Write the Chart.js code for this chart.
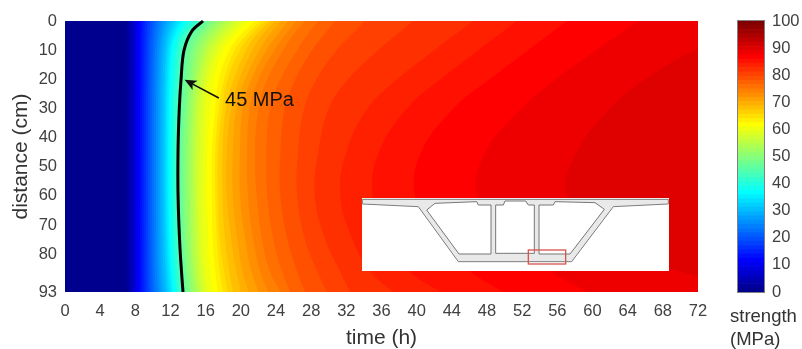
<!DOCTYPE html>
<html>
<head>
<meta charset="utf-8">
<style>
html,body{margin:0;padding:0;background:#fff;width:802px;height:349px;overflow:hidden}
canvas{position:absolute;display:block}
#inset{position:absolute;left:355px;top:190px;width:320px;height:90px}
</style>
<script src="https://cdn.jsdelivr.net/npm/chart.js@4"></script>
</head>
<body>
<canvas id="main" width="802" height="349" style="left:0;top:0;width:802px;height:349px"></canvas>
<canvas id="bar" width="82" height="349" style="left:720px;top:0;width:82px;height:349px"></canvas>
<svg id="inset" viewBox="0 0 960 270" aria-hidden="true">
  <defs><filter id="soft"><feGaussianBlur stdDeviation="1.1"/></filter></defs>
  <rect x="21" y="24" width="921" height="219" fill="#fff"/>
  <g filter="url(#soft)">
    <path d="M22 28L940 28L940 42L775 50L650 215L310 215L190 50L22 42Z" fill="#e9e9e9" stroke="#7d7d7d" stroke-width="3"/>
    <path d="M240 40L365 35L370 45L408 45L408 192L312 192L215 60Z" fill="#fff" stroke="#777" stroke-width="3"/>
    <path d="M422 45L445 45L450 33L512 33L520 45L538 45L538 190L422 190Z" fill="#fff" stroke="#777" stroke-width="3"/>
    <path d="M552 45L595 45L600 35L720 38L748 58L645 192L552 192Z" fill="#fff" stroke="#777" stroke-width="3"/>
    <rect x="520" y="180" width="112" height="42" fill="none" stroke="#d9544f" stroke-width="4"/>
  </g>
</svg>
<script>
// ---- data ----
const timeTicks = [0,4,8,12,16,20,24,28,32,36,40,44,48,52,56,60,64,68,72];
const depthTicks = [0,10,20,30,40,50,60,70,80,93];
const strengthTicks = [0,10,20,30,40,50,60,70,80,90,100];
const bandWidthMPa = 100/64;
const depthNodes = [0,5,10,20,30,45,60,75,86,93];
const baseContour = [0,0,0,0,0,0,0,0,0,0];
// time (h) at which strength crosses each band boundary, one row per boundary, one column per depth node
const contourTimes = [
[7.05,7.05,7.05,7.05,7.05,7.05,7.05,7.05,7.05,7.05],
[7.28,7.28,7.28,7.28,7.28,7.28,7.28,7.28,7.28,7.28],
[7.51,7.51,7.51,7.51,7.51,7.51,7.51,7.51,7.51,7.51],
[7.74,7.74,7.74,7.74,7.74,7.74,7.74,7.74,7.74,7.74],
[7.97,7.96,7.96,7.96,7.96,7.96,7.96,7.96,7.96,7.97],
[8.15,8.14,8.13,8.13,8.13,8.13,8.13,8.13,8.13,8.15],
[8.33,8.31,8.3,8.3,8.3,8.3,8.3,8.3,8.31,8.33],
[8.58,8.55,8.54,8.53,8.53,8.53,8.53,8.53,8.54,8.55],
[8.85,8.8,8.78,8.77,8.76,8.76,8.76,8.76,8.77,8.8],
[9.1,9.05,9.02,9,8.99,8.99,8.99,9,9.01,9.05],
[9.4,9.3,9.27,9.24,9.22,9.22,9.22,9.23,9.25,9.3],
[9.7,9.55,9.5,9.46,9.44,9.44,9.44,9.45,9.48,9.54],
[10,9.85,9.75,9.7,9.68,9.67,9.67,9.68,9.72,9.8],
[10.3,10.1,10,9.94,9.9,9.9,9.9,9.92,9.96,10.05],
[10.6,10.4,10.25,10.17,10.13,10.12,10.12,10.15,10.2,10.32],
[10.95,10.65,10.5,10.4,10.36,10.35,10.35,10.38,10.45,10.6],
[11.25,10.95,10.75,10.63,10.6,10.58,10.58,10.62,10.7,10.85],
[11.6,11.2,11,10.88,10.82,10.81,10.81,10.86,10.95,11.1],
[11.95,11.5,11.25,11.1,11.05,11.04,11.04,11.1,11.2,11.4],
[12.3,11.75,11.5,11.33,11.28,11.26,11.26,11.32,11.45,11.65],
[12.6,12,11.7,11.5,11.45,11.43,11.43,11.5,11.65,11.85],
[12.95,12.25,11.9,11.7,11.62,11.6,11.6,11.68,11.85,12.05],
[13.3,12.5,12.1,11.9,11.8,11.77,11.77,11.85,12.05,12.25],
[13.65,12.74,12.3,12.06,11.95,11.95,11.95,12.06,12.25,12.5],
[14.1,13,12.6,12.35,12.25,12.2,12.2,12.3,12.45,12.7],
[14.6,13.3,12.85,12.6,12.45,12.4,12.4,12.5,12.65,12.85],
[15,13.6,13.1,12.85,12.7,12.63,12.63,12.7,12.9,13.1],
[15.4,13.9,13.3,13,12.8,12.75,12.75,12.85,13.05,13.25],
[15.8,14.2,13.55,13.2,13,12.9,12.9,13.05,13.25,13.45],
[16.2,14.7,14,13.6,13.4,13.2,13.2,13.3,13.5,13.75],
[16.6,15.2,14.4,14,13.7,13.5,13.5,13.6,13.8,14.05],
[17,15.6,14.8,14.3,14,13.8,13.75,13.85,14.05,14.3],
[17.5,16,15.2,14.6,14.2,14.05,14.05,14.15,14.35,14.6],
[18,16.5,15.6,14.9,14.5,14.35,14.33,14.4,14.6,14.9],
[18.5,17,16,15.2,14.8,14.6,14.6,14.7,14.9,15.2],
[19,17.5,16.4,15.5,15.1,14.9,14.9,15,15.2,15.5],
[19.6,18,16.9,15.9,15.5,15.3,15.2,15.3,15.5,15.8],
[20.2,18.6,17.4,16.3,15.9,15.7,15.6,15.7,15.9,16.2],
[20.9,19.2,18,16.9,16.5,16.2,16.15,16.3,16.5,16.8],
[21.6,19.9,18.7,17.5,17.1,16.7,16.7,16.8,17.1,17.4],
[22.2,20.6,19.3,18.1,17.5,17.1,17.1,17.3,17.6,18],
[22.8,21.1,19.9,18.5,17.9,17.4,17.4,17.6,18.1,18.5],
[23.3,21.7,20.6,19.2,18.3,17.9,17.9,18.2,18.7,19.1],
[23.9,22.4,21.3,19.8,18.9,18.4,18.4,18.9,19.5,20],
[24.6,23.2,22.1,20.5,19.5,19.1,19.1,19.6,20.2,20.9],
[25.4,24.1,22.9,21.2,20.2,19.9,19.9,20.5,21.2,22],
[26.3,25,23.8,22,21,20.7,20.8,21.4,22.2,23.1],
[27.3,25.9,24.8,23,22,21.6,21.8,22.4,23.3,24.5],
[28.8,27.5,26.4,24.5,23.3,22.9,23,23.7,24.7,25.6],
[30.7,29.4,28.1,26.2,25,24.5,24.5,25.3,26.4,27.3],
[34.1,32.5,30.9,28.6,27.2,26.5,26.4,27.3,28.7,29.8],
[39.6,37.6,35.6,32.2,30,28.8,28.4,29.6,31.3,32.4],
[46.4,44.2,42,37.8,34.4,32,31.3,32.7,34.7,37.3],
[51.4,49.2,47,42.7,38.9,35.7,35,36.7,39.2,42.7],
[57.1,54.9,52.7,48.3,44.2,40.5,39.8,42.2,46.1,49.8],
[65.2,62.8,60.4,55.8,51.9,47.8,46.9,50.4,55.2,59.4],
[82.5,77.4,71.7,66,62,58.2,57.1,63.1,70,82]
];
const line45Depth = [0,3.4,10,20,30,44,60,78,93];
const line45Time = [15.7,14.45,13.54,13.2,13,12.86,12.86,13.08,13.42];
const arrowTip = {t:13.6, d:20.2};
const arrowTail = {t:17.5, d:26.4};
const arrowLabel = {t:18.2, d:27.3, text:'45 MPa'};
const fillLimitHours = 120;

// MATLAB jet(64) palette, index 1..64
function jet(i){
  const f=(c)=>Math.round(255*Math.max(0,Math.min(1,c)));
  const v=i/16;
  const r=Math.min(v-1.5,(72-i)/16);
  const g=Math.min(v-0.5,(56-i)/16);
  const b=Math.min(v+0.5,(40-i)/16);
  return 'rgb('+f(r)+','+f(g)+','+f(b)+')';
}

Chart.defaults.font.family='"Liberation Sans", Arial, sans-serif';
Chart.defaults.animation=false;

const toPts=(row)=>row.map((t,j)=>({x:t,y:depthNodes[j]}));
const datasets=[];
const N=contourTimes.length;
datasets.push({label:'45 MPa',data:line45Time.map((t,j)=>({x:t,y:line45Depth[j]})),borderColor:'#000',borderWidth:3,pointRadius:0,fill:false,tension:0.35,order:0,clip:false});
[baseContour].concat(contourTimes).forEach((row,i)=>{
  datasets.push({label:'band '+(i+1),data:toPts(row),borderWidth:0,borderColor:'transparent',backgroundColor:jet(i+1),pointRadius:0,fill:{value:fillLimitHours},tension:0.4,order:N+2-i});
});

const annot={id:'annot',afterDatasetsDraw(c){
  const {ctx,scales:{x,y}}=c;
  const tx=x.getPixelForValue(arrowTip.t),ty=y.getPixelForValue(arrowTip.d);
  const ax=x.getPixelForValue(arrowTail.t),ay=y.getPixelForValue(arrowTail.d);
  const ang=Math.atan2(ay-ty,ax-tx);
  ctx.save();
  ctx.strokeStyle='#111';ctx.lineWidth=1.6;
  ctx.beginPath();ctx.moveTo(tx+6*Math.cos(ang),ty+6*Math.sin(ang));ctx.lineTo(ax,ay);ctx.stroke();
  ctx.fillStyle='#111';ctx.beginPath();ctx.moveTo(tx,ty);
  ctx.lineTo(tx+13*Math.cos(ang+0.42),ty+13*Math.sin(ang+0.42));
  ctx.lineTo(tx+9*Math.cos(ang),ty+9*Math.sin(ang));
  ctx.lineTo(tx+13*Math.cos(ang-0.42),ty+13*Math.sin(ang-0.42));
  ctx.closePath();ctx.fill();
  ctx.font='20px "Liberation Sans", Arial, sans-serif';
  ctx.textAlign='left';ctx.textBaseline='middle';ctx.fillStyle='#111';
  ctx.fillText(arrowLabel.text,x.getPixelForValue(arrowLabel.t),y.getPixelForValue(arrowLabel.d));
  ctx.restore();
}};

new Chart(document.getElementById('main'),{
  type:'line',
  data:{datasets},
  plugins:[annot],
  options:{
    responsive:false,indexAxis:'y',
    layout:{padding:{left:0,top:21,right:104,bottom:0}},
    elements:{line:{capBezierPoints:false}},
    plugins:{legend:{display:false},tooltip:{enabled:false}},
    scales:{
      x:{type:'linear',position:'bottom',min:0,max:72,
        afterBuildTicks:s=>{s.ticks=timeTicks.map(v=>({value:v}))},
        afterFit:s=>{s.height=57},
        grid:{display:false},border:{display:false},
        ticks:{autoSkip:false,maxRotation:0,font:{size:16.5},color:'#404040',padding:2},
        title:{display:true,text:'time (h)',font:{size:21},color:'#333',padding:{top:2,bottom:-2}}},
      y:{type:'linear',position:'left',reverse:true,min:0,max:93,
        afterBuildTicks:s=>{s.ticks=depthTicks.map(v=>({value:v}))},
        afterFit:s=>{s.width=65},
        grid:{display:false},border:{display:false},
        ticks:{autoSkip:false,font:{size:16.5},color:'#404040',padding:0},
        title:{display:true,text:'distance (cm)',font:{size:21},color:'#333',padding:{top:9,bottom:0}}}
    }
  }
});

const barSets=[];
for(let i=1;i<=64;i++){barSets.push({data:[bandWidthMPa],backgroundColor:jet(i),borderWidth:0,barPercentage:1,categoryPercentage:1,stack:'s'});}
const frame={id:'frame',afterDatasetsDraw(c){
  const {ctx,chartArea:a}=c;
  ctx.save();ctx.strokeStyle='#808080';ctx.lineWidth=1;
  ctx.strokeRect(a.left-0.5,a.top-0.5,a.right-a.left+1,a.bottom-a.top+1);
  ctx.font='18.5px "Liberation Sans", Arial, sans-serif';ctx.fillStyle='#333';ctx.textAlign='left';ctx.textBaseline='middle';
  ctx.fillText('strength',10,317);ctx.fillText('(MPa)',10,340);
  ctx.restore();
}};
new Chart(document.getElementById('bar'),{
  type:'bar',
  data:{labels:['strength'],datasets:barSets},
  plugins:[frame],
  options:{
    responsive:false,
    layout:{padding:{left:18,top:21,right:0,bottom:57}},
    plugins:{legend:{display:false},tooltip:{enabled:false}},
    scales:{
      x:{display:false,stacked:true},
      y:{stacked:true,position:'right',min:0,max:100,
        afterBuildTicks:s=>{s.ticks=strengthTicks.map(v=>({value:v}))},
        afterFit:s=>{s.width=38},
        grid:{display:false},border:{display:false},
        ticks:{font:{size:16.5},color:'#404040',padding:0,autoSkip:false}}
    }
  }
});
</script>
</body>
</html>
